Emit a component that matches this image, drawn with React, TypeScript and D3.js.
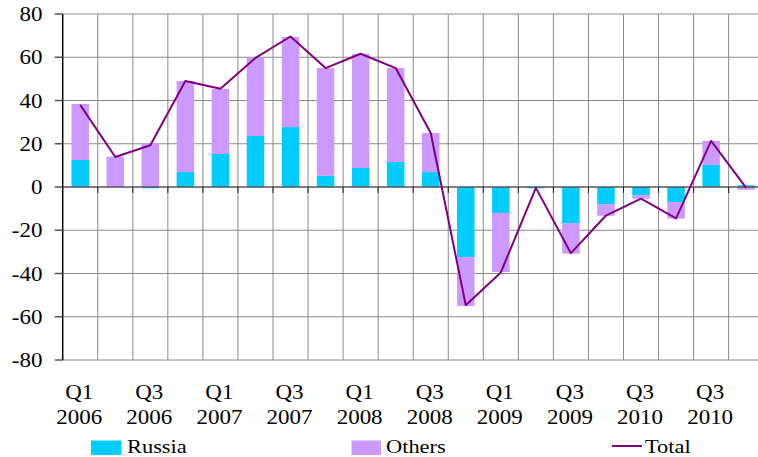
import React from "react";
import * as d3 from "d3";

const quarters = [
  "Q1 2006", "Q2 2006", "Q3 2006", "Q4 2006",
  "Q1 2007", "Q2 2007", "Q3 2007", "Q4 2007",
  "Q1 2008", "Q2 2008", "Q3 2008", "Q4 2008",
  "Q1 2009", "Q2 2009", "Q3 2009", "Q4 2009",
  "Q1 2010", "Q2 2010", "Q3 2010", "Q4 2010",
];
const russia = [12.5, 0, -0.6, 6.9, 15.3, 23.6, 27.7, 5.2, 8.8, 11.6, 6.9, -32.4, -12, -0.6, -16.7, -8, -3.8, -7, 10.2, 0.8];
const others = [25.9, 14, 20.3, 42.1, 30, 36.1, 41.7, 49.8, 52.8, 43.4, 18.1, -22.6, -27.3, 0, -14.1, -5.3, -1.6, -7.6, 11.1, -1.3];
const total = [38, 13.9, 19.3, 49, 45.4, 59.7, 69.6, 55, 61.6, 55, 25, -54.7, -39.5, -0.4, -30.6, -13.2, -5.4, -14.5, 21.3, -0.4];
const tickLabels: [number, string, string][] = [
  [0, "Q1", "2006"], [2, "Q3", "2006"], [4, "Q1", "2007"], [6, "Q3", "2007"],
  [8, "Q1", "2008"], [10, "Q3", "2008"], [12, "Q1", "2009"], [14, "Q3", "2009"],
  [16, "Q3", "2010"], [18, "Q3", "2010"],
];
const yTicks = [-80, -60, -40, -20, 0, 20, 40, 60, 80];

const W = 758;
const H = 457;
const left = 62.7;
const step = 35.05;
const right = left + step * quarters.length;
const top = 14;
const bottom = 360;
const FONT = '"Liberation Serif", "Times New Roman", Tinos, serif';

function T({ x, y, anchor = "start", dy, size = 20, children }: { x: number; y: number; anchor?: string; dy?: string; size?: number; children: React.ReactNode }) {
  return (
    <text
      transform={`translate(${x},${y}) scale(1.15,1)`}
      textAnchor={anchor}
      dy={dy}
      style={{ fontFamily: FONT, fontSize: `${size}px` }}
      fill="#000"
    >
      {children}
    </text>
  );
}

export default function App() {
  const x = d3.scaleBand<string>().domain(quarters).range([left, right]).paddingInner(0.5).paddingOuter(0.25);
  const y = d3.scaleLinear().domain([-80, 80]).range([bottom, top]);
  const line = d3
    .line<number>()
    .x((_, i) => (x(quarters[i]) as number) + x.bandwidth() / 2)
    .y((d) => y(d));

  const segs = quarters.map((q, i) => {
    const r = russia[i];
    const o = others[i];
    let posBase = 0;
    let negBase = 0;
    const out: { y0: number; y1: number; color: string }[] = [];
    for (const [v, color] of [[r, "#00CCFF"], [o, "#CC99FF"]] as [number, string][]) {
      if (v >= 0) {
        out.push({ y0: posBase, y1: posBase + v, color });
        posBase += v;
      } else {
        out.push({ y0: negBase, y1: negBase + v, color });
        negBase += v;
      }
    }
    return { q, out };
  });

  const boundaries = d3.range(1, quarters.length + 1).map((i) => left + i * step);
  const catCenter = (i: number) => (x(quarters[i]) as number) + x.bandwidth() / 2;

  return (
    <svg width={W} height={H} style={{ position: "absolute", left: 0, top: 0, background: "#fff" }}>
      {yTicks.filter((t) => t !== 0).map((t) => (
        <line key={"h" + t} x1={left} x2={W} y1={y(t)} y2={y(t)} stroke="#8a8a8a" strokeWidth={1} />
      ))}
      {boundaries.map((b, i) => (
        <line key={"v" + i} x1={b} x2={b} y1={top} y2={bottom} stroke="#8a8a8a" strokeWidth={1} />
      ))}
      {segs.map(({ q, out }) =>
        out.map((s, j) => (
          <rect
            key={q + j}
            x={x(q)}
            width={x.bandwidth()}
            y={Math.min(y(s.y0), y(s.y1))}
            height={Math.abs(y(s.y1) - y(s.y0))}
            fill={s.color}
          />
        ))
      )}
      <line x1={left} x2={W} y1={y(0)} y2={y(0)} stroke="#555" strokeWidth={1.5} />
      {boundaries.map((b, i) => (
        <line key={"xt" + i} x1={b} x2={b} y1={y(0)} y2={y(0) + 6} stroke="#222" strokeWidth={1} />
      ))}
      <path d={line(total) || ""} fill="none" stroke="#800080" strokeWidth={2} strokeLinejoin="round" />
      <line x1={left} x2={left} y1={top} y2={bottom} stroke="#000" strokeWidth={1.5} />
      {yTicks.map((t) => (
        <g key={"yt" + t}>
          <line x1={left - 8} x2={left} y1={y(t)} y2={y(t)} stroke="#555" strokeWidth={1.5} />
          <T x={42.5} y={y(t)} anchor="end" dy="0.35em">{t}</T>
        </g>
      ))}
      {tickLabels.map(([i, a, b]) => (
        <g key={"xl" + i}>
          <T x={catCenter(i) - 1} y={398.5} anchor="middle">{a}</T>
          <T x={catCenter(i) - 1} y={423.5} anchor="middle">{b}</T>
        </g>
      ))}
      <rect x={91} y={440.5} width={30.5} height={14.5} fill="#00CCFF" />
      <T x={127} y={452.5} size={19.5}>Russia</T>
      <rect x={351.5} y={440.5} width={29.5} height={14.5} fill="#CC99FF" />
      <T x={386} y={452.5} size={19.5}>Others</T>
      <line x1={612} x2={642} y1={446} y2={446} stroke="#800080" strokeWidth={2} />
      <T x={645} y={452.5} size={19.5}>Total</T>
    </svg>
  );
}
